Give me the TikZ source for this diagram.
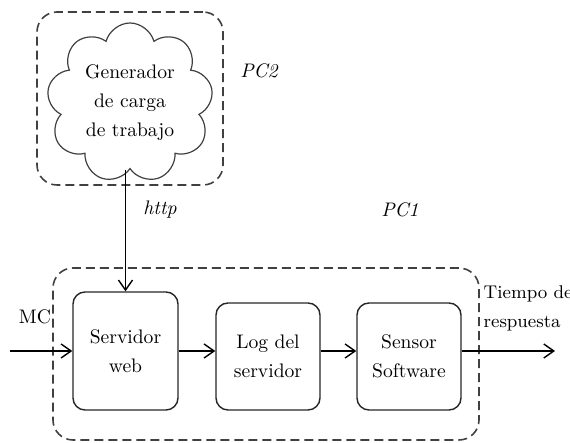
\documentclass[tikz,border=0pt]{standalone}
\usepackage{tikz}
\usetikzlibrary{arrows.meta,positioning,shapes.symbols}
\tikzset{%
  >={Straight Barb[length=5pt,width=7pt]},
  % Specifications for style of nodes:
         base/.style = {rectangle, rounded corners=6pt, draw=black!85,
                        line width=0.7pt, text centered, align=center,
                        font=\fontsize{9.8}{14.5}\selectfont},
     blockbig/.style = {base, minimum width=52.5pt, minimum height=59pt},
        block/.style = {base, minimum width=52pt, minimum height=53.5pt},
      pcgroup/.style = {rectangle, rounded corners=10pt, draw=black!75,
                        line width=0.8pt, dash pattern=on 4.5pt off 2.5pt},
    cloudnode/.style = {cloud, cloud puffs=9, cloud ignores aspect,
                        draw=black!75, line width=0.6pt, inner sep=0pt,
                        minimum width=83pt, minimum height=80pt,
                        align=center, font=\fontsize{9.8}{14.5}\selectfont},
        plain/.style = {font=\fontsize{9.8}{14.5}\selectfont},
      itlabel/.style = {font=\fontsize{9.8}{14.5}\selectfont\itshape},
}

\begin{document}
\begin{tikzpicture}[x=0.5pt, y=-0.5pt, line width=0.7pt]
\useasboundingbox (0,0) rectangle (570,443);

\node (PCtwoBox)  [pcgroup, minimum width=93pt, minimum height=86.5pt] at (130,98.5) {};

\node (PConeBox)  [pcgroup, minimum width=213pt, minimum height=86pt] at (266,354) {};

\node (Gen)       [cloudnode] at (130,103) {Generador\\de carga\\de trabajo};

\node (Serv)      [blockbig] at (125.5,351) {Servidor\\web};

\node (Log)       [block] at (268,356.5) {Log del\\servidor};

\node (Sensor)    [block, right of=Log, node distance=70.5pt] {Sensor\\Software};

\node (PCtwo)     [itlabel] at (259,71) {PC2};

\node (PCone)     [itlabel] at (400,210) {PC1};

\node (Http)      [itlabel] at (160,210) {http};

\node (MC)        [plain] at (35,317) {MC};

\node (Tiempo)    [plain, anchor=west, align=left, inner sep=0pt,
                   font=\fontsize{9.2}{14.5}\selectfont] at (483,308) {Tiempo de\\respuesta};

\coordinate (In)  at (10,351);
\coordinate (Out) at (555,351);

\draw[->]             (Gen.south -| Serv.north) -- (Serv.north);
\draw[->]             (In) -- (Serv.west);
\draw[->]             (Serv.east) -- (Log.west |- Serv.east);
\draw[->]             (Log.east |- Serv.east) -- (Sensor.west |- Serv.east);
\draw[->]             (Sensor.east |- Serv.east) -- (Out);
  \end{tikzpicture}
\end{document}
